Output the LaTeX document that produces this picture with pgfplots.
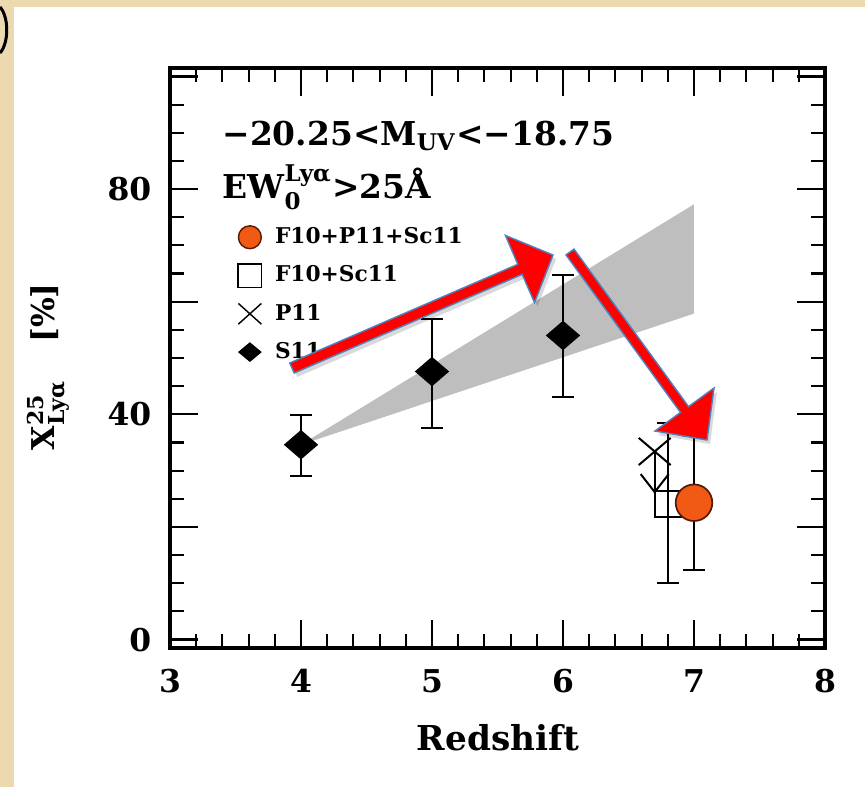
\documentclass[border=0pt]{standalone}
\usepackage{pgfplots}
\pgfplotsset{compat=1.18}
\usepackage{amsmath}
\usepackage{fontspec}
\setmainfont{DejaVu Serif}
\usetikzlibrary{arrows.meta}
\definecolor{parch}{RGB}{236,217,175}
\definecolor{bandgray}{RGB}{190,190,190}
\definecolor{dotorange}{RGB}{240,90,20}
\definecolor{dotedge}{RGB}{90,25,5}
\definecolor{arrowred}{RGB}{255,0,0}
\definecolor{arrowblue}{RGB}{79,129,189}
\begin{document}
\begin{tikzpicture}
% background (pixel coordinates of the picture, y downwards)
\begin{scope}[shift={(-59.5pt,226.8pt)}, x=0.35pt, y=-0.35pt]
  \fill[parch] (0,0) rectangle (865,787);
  \fill[white] (14,7) rectangle (865,787);
  \draw[line width=1.05pt] (0,7) .. controls (9,17) and (9,43) .. (0,53);
\end{scope}
\begin{axis}[
  scale only axis, width=229.25pt, height=203pt,
  xmin=3, xmax=8, ymin=-1.5, ymax=101.5,
  xtick={3,4,5,6,7,8}, xticklabels={3,4,5,6,7,8},
  minor x tick num=4,
  ytick={0,20,40,60,80,100}, yticklabels={0,{},40,{},80,{}},
  minor y tick num=3,
  tick align=inside, xtick pos=both, ytick pos=both,
  xticklabel pos=lower, yticklabel pos=left,
  major tick length=9.8pt, minor tick length=4.9pt,
  every tick/.style={black, line width=0.75pt},
  axis line style={line width=1.1pt},
  ticklabel style={font=\bfseries\fontsize{11}{13}\selectfont},
  xticklabel style={yshift=-4pt},
  yticklabel style={xshift=-3pt},
  xlabel={Redshift},
  xlabel style={font=\bfseries\fontsize{12}{14}\selectfont, at={(axis description cs:0.5008,-0.155)}, anchor=center},
  ylabel={X$^{\text{25}}_{\text{Lyα}}$\hspace{13pt}[\%]},
  ylabel style={font=\bfseries\fontsize{11}{13}\selectfont, at={(axis description cs:-0.186,0.485)}, anchor=center},
  legend image code/.code={\draw[mark repeat=2,mark phase=2,#1] plot coordinates {(0cm,0cm) (0.25cm,0cm) (0.5cm,0cm)};},
  legend style={at={(axis cs:3.516,74.95)}, anchor=north west, draw=none, fill=none, inner sep=0pt, row sep=0pt,
    font=\bfseries\fontsize{7.6}{9}\selectfont, nodes={inner xsep=4.7pt, inner ysep=2.95pt, text height=6pt, text depth=1.5pt}},
  legend cell align=left,
  error bars/error bar style={line width=0.7pt, black},
  error bars/error mark options={rotate=90, mark size=3.85pt, line width=0.7pt, black},
  clip=false,
]
% shaded model band
\addplot[fill=bandgray, draw=none, forget plot] coordinates {(4,34.6) (7,57.9) (7,77.3) (4,34.6)} -- cycle;
% S11
\addplot[only marks, mark=diamond*, mark size=4.9pt, mark options={xscale=1.55, fill=black, draw=black, line width=0.4pt}, forget plot,
  error bars/.cd, y dir=both, y explicit] coordinates {
  (4,34.6) += (0,5.3) -= (0,5.5)
  (5,47.6) += (0,9.3) -= (0,10.1)
  (6,54.0) += (0,10.7) -= (0,11.0)
};
% P11 upper limit
\addplot[black, line width=0.7pt, -{Straight Barb[length=6.3pt, width=9.8pt]}, forget plot] coordinates {(6.7,33.4) (6.7,25.9)};
\addplot[only marks, mark=x, mark size=7.9pt, mark options={yscale=0.85, line width=0.7pt, black}, forget plot] coordinates {(6.7,33.4)};
% F10+Sc11
\addplot[only marks, mark=square, mark size=4.5pt, mark options={line width=0.6pt, black}, forget plot,
  error bars/.cd, y dir=both, y explicit] coordinates {
  (6.8,24.1) += (0,14.4) -= (0,14.0)
};
% F10+P11+Sc11
\addplot[only marks, mark=*, mark size=6.4pt, mark options={fill=dotorange, draw=dotedge, line width=0.6pt}, forget plot,
  error bars/.cd, y dir=both, y explicit] coordinates {
  (7.0,24.3) += (0,11.8) -= (0,11.9)
};
% legend
\addlegendimage{only marks, mark=*, mark size=4pt, mark options={fill=dotorange, draw=dotedge, line width=0.5pt}}
\addlegendentry{F10+P11+Sc11}
\addlegendimage{only marks, mark=square, mark size=4.1pt, mark options={line width=0.5pt, black}}
\addlegendentry{F10+Sc11}
\addlegendimage{only marks, mark=x, mark size=5.7pt, mark options={yscale=0.9, line width=0.5pt, black}}
\addlegendentry{P11}
\addlegendimage{only marks, mark=diamond*, mark size=3.2pt, mark options={xscale=1.6, fill=black, draw=black}}
\addlegendentry{S11}
\node[anchor=base west, inner sep=0pt, font=\bfseries\fontsize{11.5}{13}\selectfont] at (axis cs:3.397,87.7) {−20.25<M\textsubscript{UV}<−18.75};
\node[anchor=base west, inner sep=0pt, font=\bfseries\fontsize{11.5}{13}\selectfont] at (axis cs:3.397,78.3) {EW$^{\text{Lyα}}_{\text{0}}$>25Å};
\end{axis}
% annotation arrows (pixel coordinates)
\begin{scope}[shift={(-59.5pt,226.8pt)}, x=0.35pt, y=-0.35pt]
  \fill[black, opacity=0.15] (297.2,377.0) -- (525.2,278.3) -- (537.5,306.5) -- (556,259) -- (508.5,239.5) -- (520.8,268.3) -- (292.8,367.0) -- cycle;
  \fill[black, opacity=0.15] (577.0,253.1) -- (691.5,410.6) -- (717,392) -- (710,444) -- (658,435) -- (683.5,416.4) -- (569.0,258.9) -- cycle;
  \filldraw[fill=arrowred, draw=arrowblue, line width=0.5pt, line join=miter]
    (294.2,373.0) -- (522.2,274.3) -- (534.5,302.5) -- (553,255) -- (505.5,235.5) -- (517.8,264.3) -- (289.8,363.0) -- cycle;
  \filldraw[fill=arrowred, draw=arrowblue, line width=0.5pt, line join=miter]
    (574.0,249.1) -- (688.5,406.6) -- (714,388) -- (707,440) -- (655,431) -- (680.5,412.4) -- (566.0,254.9) -- cycle;
  \pgfresetboundingbox
  \path[use as bounding box] (0,0) rectangle (865,787);
\end{scope}
\end{tikzpicture}
\end{document}
